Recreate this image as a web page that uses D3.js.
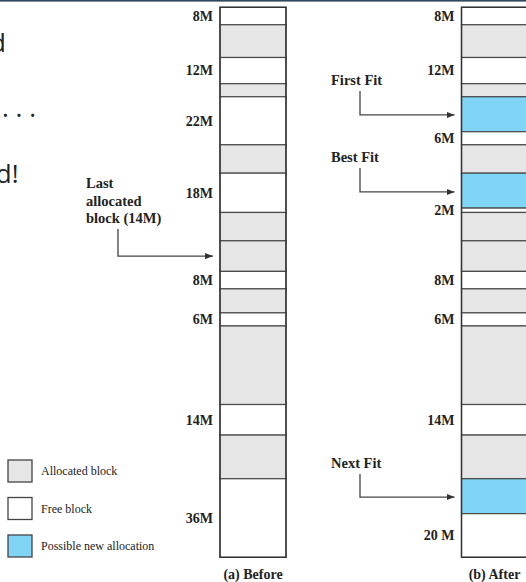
<!DOCTYPE html>
<html>
<head>
<meta charset="utf-8">
<script src="https://cdn.jsdelivr.net/npm/d3@7"></script>
<style>
  body { margin: 0; background: #fff; }
  .lbl { font-family: "Liberation Serif", serif; font-weight: bold; font-size: 14px; fill: #222; }
  .note { font-family: "Liberation Serif", serif; font-weight: bold; font-size: 14.5px; fill: #222; }
  .legend-text { font-family: "Liberation Serif", serif; font-size: 12px; fill: #222; }
  .slide { font-family: "Open Sans", sans-serif; font-size: 26px; fill: #222; }
</style>
</head>
<body>
<div id="chart"></div>
<script>
// block sizes (MB) from top of memory to bottom
var beforeSizes  = [8, 15, 12, 6, 22, 13, 18, 13, 14, 8, 11, 6, 36, 14, 20, 36];
var beforeTypes  = ["free","alloc","free","alloc","free","alloc","free","alloc","alloc","free","alloc","free","alloc","free","alloc","free"];
var beforeLabels = ["8M","","12M","","22M","","18M","","","8M","","6M","","14M","","36M"];

var afterSizes  = [8, 15, 12, 6, 16, 6, 13, 16, 2, 13, 14, 8, 11, 6, 36, 14, 20, 16, 20];
var afterTypes  = ["free","alloc","free","alloc","new","free","alloc","new","free","alloc","alloc","free","alloc","free","alloc","free","alloc","new","free"];
var afterLabels = ["8M","","12M","","","6M","","","2M","","","8M","","6M","","14M","","","20 M"];

var captions = ["(a) Before", "(b) After"];

// arrows: text lines, which column, memory position (MB) pointed at
var noteLines   = [["Last", "allocated", "block (14M)"], ["First Fit"], ["Best Fit"], ["Next Fit"]];
var noteColumn  = ["before", "after", "after", "after"];
var noteTarget  = [114, 49.3, 84.6, 224.4];
var noteTextTop = [114 - 33.5, 49.3 - 16, 84.6 - 16, 224.4 - 15.6];

var legendKeys  = ["alloc", "free", "new"];
var legendNames = ["Allocated block", "Free block", "Possible new allocation"];

var width = 526, height = 582;

var svg = d3.select("#chart")
    .append("svg")
    .attr("width", width)
    .attr("height", height);

// slide header strip
svg.append("rect")
    .attr("x", 0).attr("y", 0)
    .attr("width", width).attr("height", 1.6)
    .attr("fill", "#2e4a5a");

// cut-off slide text on the left
svg.append("text").attr("class", "slide").attr("x", 6).attr("y", 52).attr("text-anchor", "end").text("d");
svg.append("text").attr("class", "slide").attr("x", 2).attr("y", 117).text(". . .");
svg.append("text").attr("class", "slide").attr("x", 18.5).attr("y", 183).attr("text-anchor", "end").text("d!");

// scales
var yScale = d3.scaleLinear()
    .domain([0, d3.sum(beforeSizes)])
    .range([7.3, 557.3]);

var xCol = d3.scaleOrdinal()
    .domain(["before", "after"])
    .range([220, 461.5]);
var colW = 66;

var fillColor = d3.scaleOrdinal()
    .domain(["alloc", "free", "new"])
    .range(["#e6e6e6", "#ffffff", "#80d4f6"]);

function makeBlocks(sizes, types, labels) {
    var start = 0;
    return sizes.map(function(s, i) {
        var b = {start: start, size: s, type: types[i], label: labels[i]};
        start += s;
        return b;
    });
}

function drawColumn(key, blocks) {
    var g = svg.append("g");
    var x0 = xCol(key);

    g.selectAll("rect.block")
        .data(blocks)
        .enter().append("rect")
        .attr("class", "block")
        .attr("x", x0)
        .attr("y", function(d) { return yScale(d.start); })
        .attr("width", colW)
        .attr("height", function(d) { return yScale(d.start + d.size) - yScale(d.start); })
        .attr("fill", function(d) { return fillColor(d.type); })
        .attr("stroke", "#4a4a4a")
        .attr("stroke-width", 1.2);

    g.selectAll("text.lbl")
        .data(blocks.filter(function(d) { return d.label; }))
        .enter().append("text")
        .attr("class", "lbl")
        .attr("x", x0 - 7)
        .attr("y", function(d) { return yScale(d.start + d.size / 2); })
        .attr("dy", "0.35em")
        .attr("text-anchor", "end")
        .text(function(d) { return d.label; });

    // outer frame
    g.append("rect")
        .attr("x", x0)
        .attr("y", yScale(0))
        .attr("width", colW)
        .attr("height", yScale(d3.sum(blocks, function(d) { return d.size; })) - yScale(0))
        .attr("fill", "none")
        .attr("stroke", "#333")
        .attr("stroke-width", 1.4);
}

drawColumn("before", makeBlocks(beforeSizes, beforeTypes, beforeLabels));
drawColumn("after", makeBlocks(afterSizes, afterTypes, afterLabels));

// captions
svg.selectAll("text.cap")
    .data(captions)
    .enter().append("text")
    .attr("class", "lbl")
    .attr("x", function(d, i) { return xCol(i == 0 ? "before" : "after") + colW / 2; })
    .attr("y", 579)
    .attr("text-anchor", "middle")
    .text(function(d) { return d; });

// arrow head
svg.append("defs").append("marker")
    .attr("id", "arrow")
    .attr("viewBox", "0 0 10 10")
    .attr("refX", 10).attr("refY", 5)
    .attr("markerWidth", 8).attr("markerHeight", 8)
    .attr("markerUnits", "userSpaceOnUse")
    .attr("orient", "auto")
    .append("path")
    .attr("d", "M0,1 L10,5 L0,9 Z")
    .attr("fill", "#333");

// annotations
noteLines.forEach(function(lines, i) {
    var isLeft = noteColumn[i] == "before";
    var tx = isLeft ? 86 : 331;
    var vx = isLeft ? 118 : 360;
    var ty = yScale(noteTextTop[i]);
    var ay = yScale(noteTarget[i]);
    var tip = xCol(noteColumn[i]) - 7;

    var t = svg.append("text")
        .attr("class", "note")
        .attr("x", tx)
        .attr("y", ty);
    lines.forEach(function(l, j) {
        t.append("tspan")
            .attr("x", tx)
            .attr("dy", j == 0 ? "0.35em" : 17.5)
            .text(l);
    });

    var startY = ty + (lines.length - 1) * 17.5 + 11;
    svg.append("path")
        .attr("d", "M" + vx + "," + startY + " L" + vx + "," + ay + " L" + tip + "," + ay)
        .attr("fill", "none")
        .attr("stroke", "#444")
        .attr("stroke-width", 1.3)
        .attr("marker-end", "url(#arrow)");
});

// legend
var legend = svg.selectAll("g.legend")
    .data(legendKeys)
    .enter().append("g")
    .attr("class", "legend")
    .attr("transform", function(d, i) { return "translate(8," + (460 + i * 37.5) + ")"; });

legend.append("rect")
    .attr("width", 24)
    .attr("height", 22)
    .attr("fill", function(d) { return fillColor(d); })
    .attr("stroke", "#444")
    .attr("stroke-width", 1.3);

legend.append("text")
    .attr("class", "legend-text")
    .attr("x", 33)
    .attr("y", 11)
    .attr("dy", "0.35em")
    .text(function(d, i) { return legendNames[i]; });
</script>
</body>
</html>
